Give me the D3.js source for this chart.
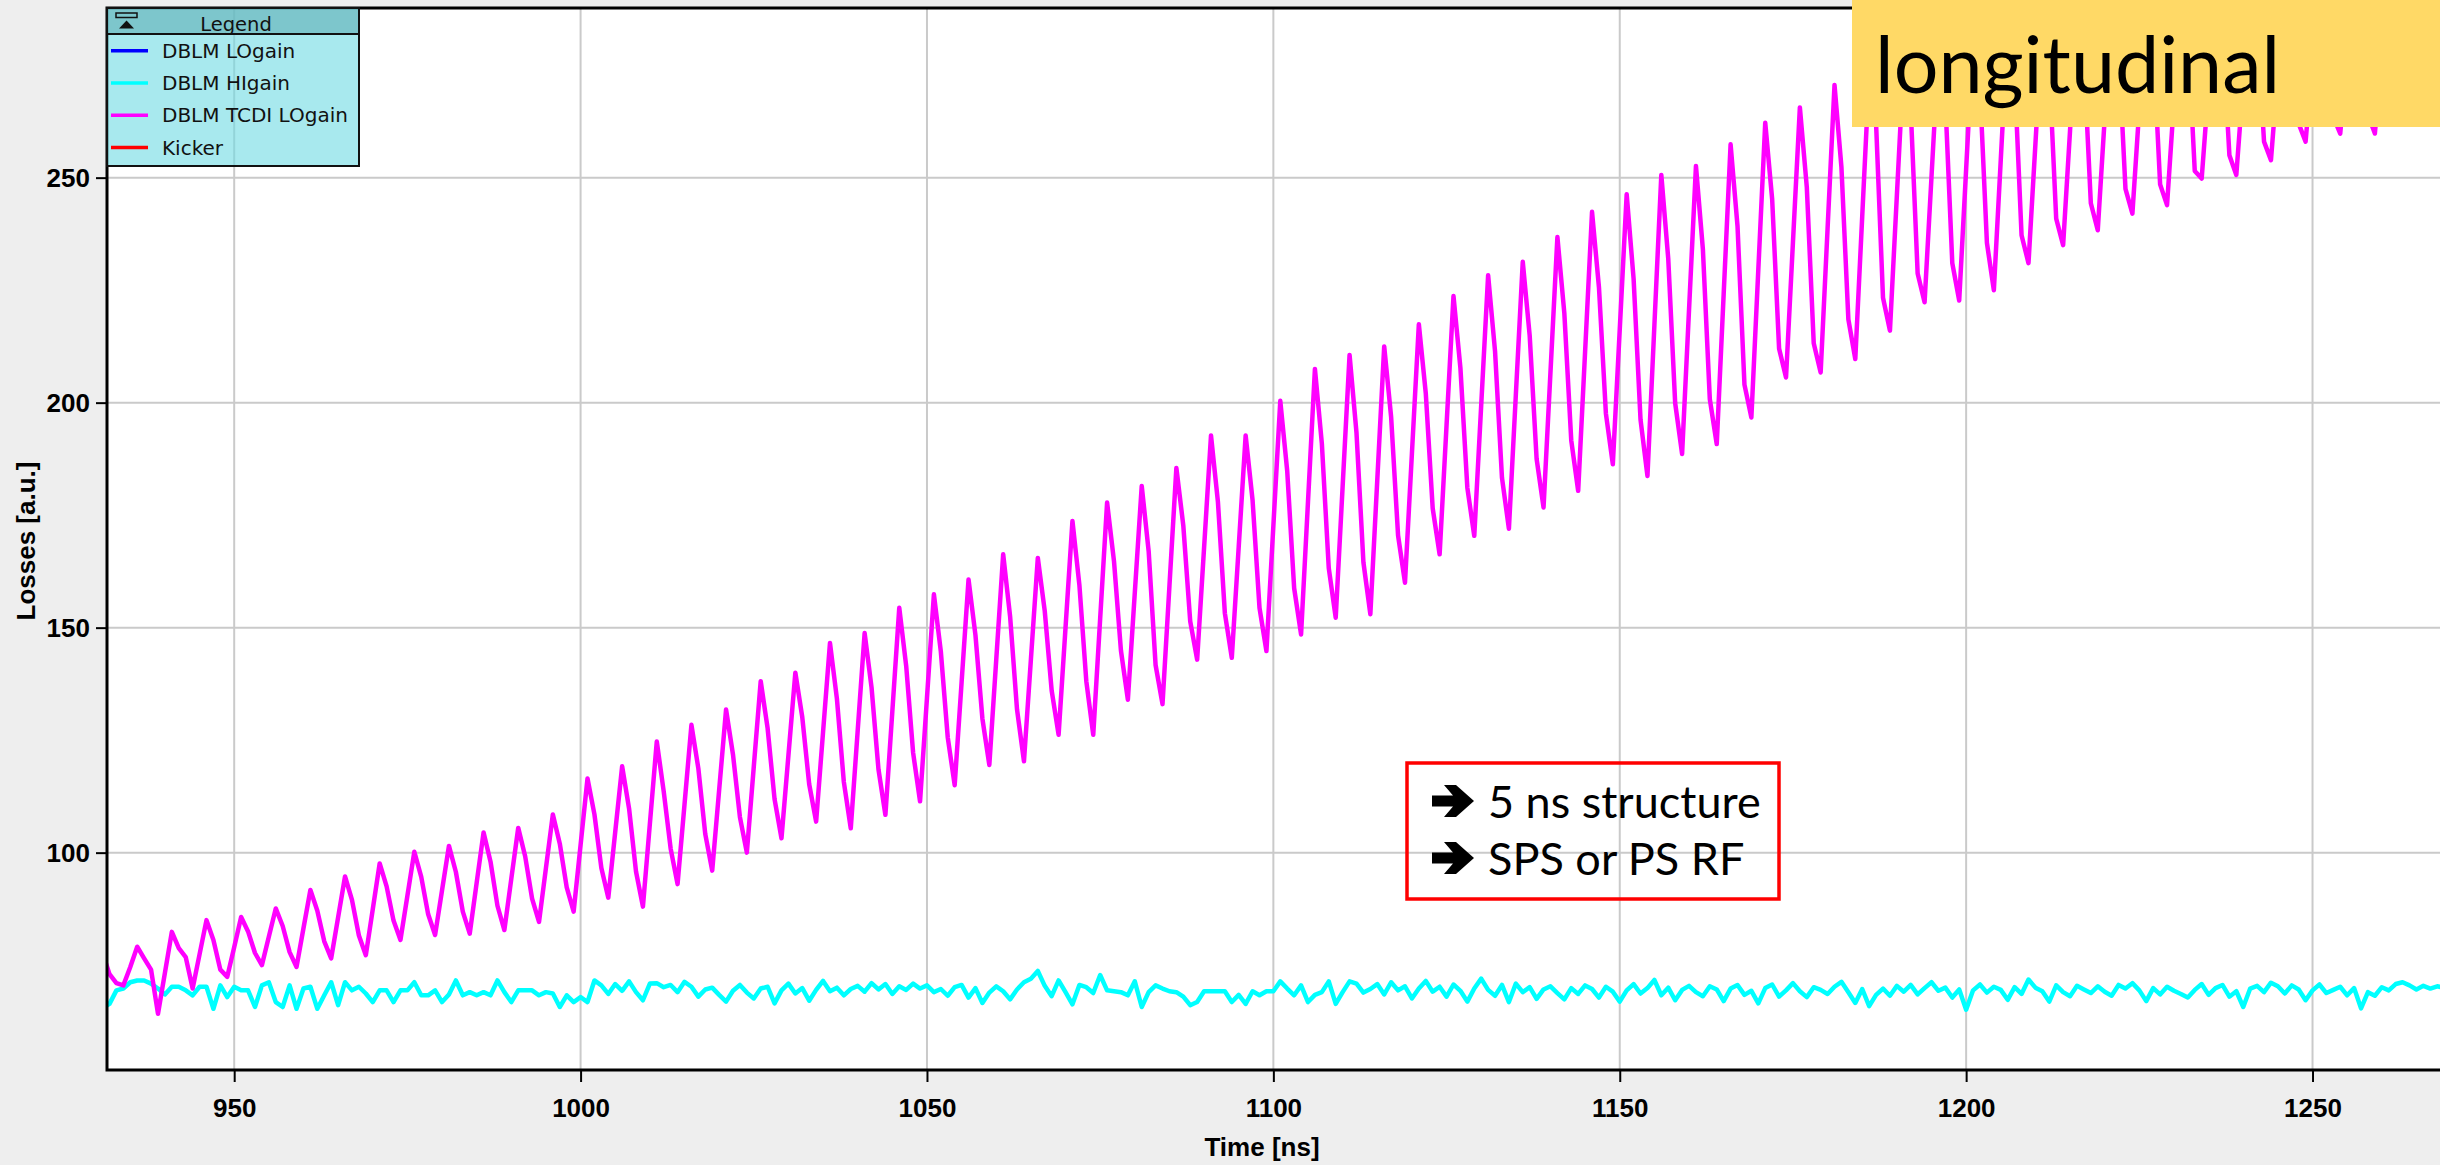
<!DOCTYPE html>
<html lang="en">
<head>
<meta charset="UTF-8">
<title>DBLM losses - longitudinal</title>
<script src="https://d3js.org/d3.v7.min.js"></script>
<style>
  * { margin: 0; padding: 0; box-sizing: border-box; }
  body { width: 2440px; height: 1165px; background: #eeeeee; overflow: hidden; }
  svg { display: block; }
</style>
</head>
<body>
<div id="chart"></div>
<script>
// scope samples every 1 ns, first sample at 931 ns
const tStart = 931;

// DBLM TCDI LOgain, 931..1269 ns
const tcdiLoGain = [
  77.7, 73.0, 71.0, 70.5, 74.6, 79.1, 76.5, 74.0, 64.2, 73.3,
  82.4, 78.8, 76.8, 69.8, 77.4, 85.0, 80.6, 74.0, 72.4, 79.0,
  85.7, 82.5, 77.7, 75.0, 81.3, 87.6, 83.7, 77.9, 74.6, 83.2,
  91.7, 87.1, 80.3, 76.5, 85.6, 94.7, 89.5, 81.6, 77.2, 87.4,
  97.6, 92.5, 84.9, 80.6, 90.4, 100.2, 94.6, 86.3, 81.7, 91.6,
  101.5, 95.7, 86.9, 82.0, 93.3, 104.5, 98.0, 88.2, 82.8, 94.2,
  105.5, 99.2, 89.8, 84.6, 96.6, 108.5, 102.0, 92.3, 86.9, 101.7,
  116.5, 108.5, 96.6, 90.0, 104.6, 119.2, 109.8, 95.8, 88.0, 106.4,
  124.7, 113.6, 100.9, 93.0, 110.7, 128.4, 118.7, 104.1, 96.0, 113.9,
  131.8, 121.8, 107.9, 100.0, 119.1, 138.1, 127.6, 111.9, 103.2, 121.6,
  140.0, 130.1, 115.2, 106.9, 126.8, 146.6, 134.2, 115.7, 105.4, 127.1,
  148.8, 136.7, 118.5, 108.4, 131.4, 154.4, 141.5, 122.2, 111.4, 134.4,
  157.4, 144.7, 125.6, 115.0, 137.9, 160.7, 148.3, 129.8, 119.5, 142.9,
  166.3, 152.5, 131.8, 120.3, 142.9, 165.5, 153.7, 136.0, 126.2, 150.0,
  173.7, 159.5, 138.1, 126.2, 152.0, 177.8, 164.7, 144.9, 134.0, 157.8,
  181.5, 167.0, 141.7, 133.0, 159.3, 185.5, 172.7, 151.4, 142.9, 167.8,
  192.7, 177.9, 153.2, 143.3, 168.0, 192.7, 178.3, 154.4, 144.8, 172.6,
  200.4, 184.8, 158.8, 148.5, 178.0, 207.5, 190.9, 163.2, 152.2, 181.4,
  210.6, 193.3, 164.5, 153.0, 182.8, 212.5, 196.8, 170.5, 160.0, 188.7,
  217.4, 202.1, 176.5, 166.3, 195.0, 223.7, 207.7, 181.1, 170.4, 199.4,
  228.3, 211.4, 183.3, 172.0, 201.7, 231.3, 214.9, 187.5, 176.7, 206.8,
  236.8, 219.9, 191.6, 180.4, 211.4, 242.4, 225.6, 197.6, 186.3, 216.3,
  246.3, 227.5, 196.2, 183.7, 217.2, 250.6, 232.0, 199.9, 188.6, 220.6,
  252.6, 234.1, 200.8, 190.8, 224.1, 257.4, 239.2, 204.0, 196.7, 229.5,
  262.2, 245.2, 212.0, 205.6, 235.6, 265.6, 247.9, 213.2, 206.7, 238.7,
  270.6, 252.3, 218.5, 209.7, 241.4, 273.0, 262.0, 223.3, 216.0, 246.0,
  276.0, 265.3, 228.7, 222.3, 250.2, 278.0, 267.0, 231.0, 222.7, 251.9,
  281.0, 269.8, 235.5, 225.0, 254.0, 283.0, 272.6, 237.2, 231.0, 257.5,
  284.0, 274.2, 240.9, 235.0, 260.5, 286.0, 276.5, 244.3, 238.3, 263.2,
  288.0, 278.8, 247.5, 242.0, 265.5, 289.0, 280.0, 248.5, 243.9, 267.0,
  290.0, 282.0, 251.5, 249.8, 270.4, 291.0, 283.0, 255.0, 250.6, 271.3,
  292.0, 284.4, 258.0, 253.9, 273.5, 293.0, 286.0, 262.0, 258.0, 276.0,
  294.0, 287.2, 263.5, 259.8, 277.4, 295.0, 288.0, 264.0, 259.8, 277.9,
  296.0, 289.2, 266.0, 262.0, 279.5, 297.0, 289.0, 268.0, 264.0
];

// DBLM HIgain, 931..1269 ns
const hiGain = [
  65.5, 66.4, 69.4, 69.8, 71.2, 71.6, 71.6, 70.9, 69.8, 68.5,
  70.2, 70.2, 69.4, 68.3, 70.2, 70.2, 65.3, 70.5, 67.9, 70.2,
  69.4, 69.4, 65.7, 70.5, 71.2, 66.8, 65.7, 70.5, 65.3, 69.8,
  70.2, 65.3, 68.3, 71.2, 66.1, 71.2, 69.4, 70.2, 68.7, 66.8,
  69.4, 69.4, 66.8, 69.4, 69.4, 71.2, 68.3, 68.3, 69.4, 66.8,
  68.5, 71.6, 68.3, 69.0, 68.3, 69.0, 68.3, 71.6, 69.0, 66.8,
  69.4, 69.4, 69.4, 68.3, 69.0, 68.7, 65.7, 68.3, 66.8, 67.9,
  66.8, 71.6, 70.5, 68.6, 70.8, 69.3, 71.4, 69.0, 67.2, 70.9,
  71.0, 70.1, 70.6, 69.0, 71.3, 70.2, 68.0, 69.6, 70.0, 68.4,
  66.9, 69.3, 70.6, 68.9, 67.6, 69.8, 70.2, 66.5, 69.4, 70.9,
  68.7, 69.9, 67.1, 69.5, 71.5, 69.2, 70.0, 68.3, 69.7, 70.4,
  69.1, 71.0, 69.6, 70.8, 68.6, 70.3, 69.5, 70.9, 69.8, 70.5,
  69.0, 69.7, 68.2, 70.1, 70.6, 67.8, 69.9, 66.6, 68.9, 70.3,
  69.2, 67.4, 69.6, 71.2, 72.0, 73.7, 70.4, 68.1, 71.6, 69.0,
  66.3, 70.6, 70.1, 68.8, 72.8, 69.4, 69.2, 69.0, 68.3, 71.4,
  65.7, 69.0, 70.5, 69.8, 69.2, 69.0, 68.0, 66.1, 66.8, 69.2,
  69.2, 69.2, 69.2, 66.8, 68.4, 66.4, 69.2, 68.3, 69.2, 69.2,
  71.4, 69.8, 68.3, 70.5, 66.8, 68.4, 69.0, 71.4, 66.4, 69.0,
  71.4, 70.9, 68.9, 69.7, 70.8, 68.5, 71.2, 69.4, 70.3, 67.6,
  69.8, 71.5, 69.1, 70.2, 68.0, 70.7, 69.3, 66.9, 69.8, 72.0,
  69.5, 68.2, 70.6, 66.8, 70.9, 69.0, 70.1, 67.5, 69.6, 70.3,
  68.8, 67.4, 69.9, 68.6, 70.5, 69.7, 67.8, 70.2, 69.1, 66.9,
  69.4, 70.8, 68.7, 69.9, 71.7, 68.3, 70.0, 67.2, 69.5, 70.4,
  69.0, 68.1, 70.3, 69.6, 67.0, 69.8, 70.6, 68.4, 69.3, 66.5,
  69.9, 70.7, 68.0, 69.4, 71.0, 69.2, 67.9, 70.1, 69.5, 68.6,
  70.2, 71.3, 69.0, 66.6, 69.7, 65.9, 68.4, 69.8, 68.2, 70.4,
  69.1, 70.6, 68.5, 69.9, 71.2, 69.3, 70.0, 67.8, 69.6, 65.1,
  69.4, 70.7, 68.9, 70.2, 69.5, 67.3, 70.1, 68.6, 71.8, 70.0,
  69.2, 66.9, 70.5, 69.0, 68.1, 70.4, 69.6, 68.8, 70.3, 69.1,
  68.2, 70.6, 69.8, 71.0, 69.4, 67.0, 69.9, 68.5, 70.2, 69.3,
  68.6, 67.8, 69.5, 70.8, 68.4, 69.9, 70.6, 68.0, 69.2, 65.7,
  69.8, 70.4, 69.0, 71.1, 70.3, 68.7, 70.5, 69.6, 67.2, 69.4,
  70.7, 68.8, 69.5, 70.2, 68.3, 69.9, 65.4, 69.0, 68.2, 70.1,
  69.4, 70.8, 71.2, 70.5, 69.6, 70.4, 69.8, 70.3, 70.0
];

const xTicks = [950, 1000, 1050, 1100, 1150, 1200, 1250];
const yTicks = [100, 150, 200, 250];

const legendNames = ['DBLM LOgain', 'DBLM HIgain', 'DBLM TCDI LOgain', 'Kicker'];
const legendColors = ['#0000ff', '#00ffff', '#ff00ff', '#ff0000'];

const tagText = 'longitudinal';
const noteLines = ['5 ns structure', 'SPS or PS RF'];

// layout
const W = 2440, H = 1165;
const plot = { left: 107, top: 8, right: 2440, bottom: 1070 };
const axisFont = '"Liberation Sans", Arial, sans-serif';

const svg = d3.select('#chart')
  .append('svg')
  .attr('width', W)
  .attr('height', H);

const x = d3.scaleLinear().domain([931.64, 1268.4]).range([plot.left, plot.right]);
const y = d3.scaleLinear().domain([51.7, 287.7]).range([plot.bottom, plot.top]);

// plot background
svg.append('rect')
  .attr('x', plot.left).attr('y', plot.top)
  .attr('width', plot.right - plot.left).attr('height', plot.bottom - plot.top)
  .attr('fill', '#ffffff');

// grid
const grid = svg.append('g').attr('stroke', '#cacaca').attr('stroke-width', 2);
grid.selectAll('line.gx').data(xTicks).join('line')
  .attr('class', 'gx')
  .attr('x1', d => x(d)).attr('x2', d => x(d))
  .attr('y1', plot.top).attr('y2', plot.bottom);
grid.selectAll('line.gy').data(yTicks).join('line')
  .attr('class', 'gy')
  .attr('x1', plot.left).attr('x2', plot.right)
  .attr('y1', d => y(d)).attr('y2', d => y(d));

// data lines
svg.append('clipPath').attr('id', 'clip')
  .append('rect')
  .attr('x', plot.left).attr('y', plot.top)
  .attr('width', plot.right - plot.left).attr('height', plot.bottom - plot.top);

const line = d3.line()
  .x((d, i) => x(tStart + i))
  .y(d => y(d));

const lines = svg.append('g').attr('clip-path', 'url(#clip)');
lines.append('path')
  .datum(hiGain)
  .attr('d', line)
  .attr('fill', 'none')
  .attr('stroke', legendColors[1])
  .attr('stroke-width', 4.5)
  .attr('stroke-linejoin', 'round');
lines.append('path')
  .datum(tcdiLoGain)
  .attr('d', line)
  .attr('fill', 'none')
  .attr('stroke', legendColors[2])
  .attr('stroke-width', 4.5)
  .attr('stroke-linejoin', 'round');

// axes
const xAxis = svg.append('g')
  .attr('transform', `translate(0,${plot.bottom})`)
  .call(d3.axisBottom(x).tickValues(xTicks).tickSize(12).tickFormat(d3.format('d')));
const yAxis = svg.append('g')
  .attr('transform', `translate(${plot.left},0)`)
  .call(d3.axisLeft(y).tickValues(yTicks).tickSize(11).tickFormat(d3.format('d')));

[xAxis, yAxis].forEach(g => {
  g.select('.domain').remove();
  g.attr('font-family', axisFont).attr('font-size', 26).attr('font-weight', 'bold');
  g.selectAll('.tick line').attr('stroke', '#000').attr('stroke-width', 2);
  g.selectAll('.tick text').attr('fill', '#000');
});
xAxis.selectAll('.tick text').attr('y', 47).attr('dy', null);
yAxis.selectAll('.tick text').attr('x', -17).attr('dy', 9);

// frame: left, top and bottom edges (right side runs off the picture)
svg.append('path')
  .attr('d', `M${plot.right},${plot.top}H${plot.left}V${plot.bottom}H${plot.right}`)
  .attr('fill', 'none')
  .attr('stroke', '#000')
  .attr('stroke-width', 3);

// axis titles
svg.append('text')
  .attr('transform', `translate(35,${(plot.top + plot.bottom) / 2 + 2}) rotate(-90)`)
  .attr('text-anchor', 'middle')
  .attr('font-family', axisFont).attr('font-weight', 'bold').attr('font-size', 26)
  .text('Losses [a.u.]');
svg.append('text')
  .attr('x', 1262).attr('y', 1156)
  .attr('text-anchor', 'middle')
  .attr('font-family', axisFont).attr('font-weight', 'bold').attr('font-size', 26)
  .text('Time [ns]');

// legend (slightly see-through, grid shows under it)
const lg = svg.append('g').attr('transform', `translate(${plot.left},${plot.top})`);
lg.append('rect')
  .attr('width', 252).attr('height', 158)
  .attr('fill', 'rgb(110,218,227)').attr('fill-opacity', 0.6);
lg.append('rect')
  .attr('width', 252).attr('height', 26)
  .attr('fill', 'rgb(97,175,182)').attr('fill-opacity', 0.6);
lg.append('rect')
  .attr('width', 252).attr('height', 158)
  .attr('fill', 'none').attr('stroke', '#111').attr('stroke-width', 2);
lg.append('line')
  .attr('x1', 0).attr('x2', 252).attr('y1', 26).attr('y2', 26)
  .attr('stroke', '#111').attr('stroke-width', 2);
// collapse icon
lg.append('rect')
  .attr('x', 9).attr('y', 5).attr('width', 21).attr('height', 4.5)
  .attr('fill', 'none').attr('stroke', '#111').attr('stroke-width', 1.5);
lg.append('path')
  .attr('d', 'M12,20.5 L27,20.5 L19.5,12.5 Z')
  .attr('fill', '#111');
lg.append('text')
  .attr('x', 129).attr('y', 22.5)
  .attr('text-anchor', 'middle')
  .attr('font-family', '"DejaVu Sans", sans-serif').attr('font-size', 19.5)
  .attr('fill', '#111')
  .text('Legend');

const rows = lg.selectAll('g.row').data(legendNames).join('g')
  .attr('class', 'row')
  .attr('transform', (d, i) => `translate(0,${42.7 + i * 32.3})`);
rows.append('line')
  .attr('x1', 4).attr('x2', 41)
  .attr('stroke', (d, i) => legendColors[i])
  .attr('stroke-width', 3.5);
rows.append('text')
  .attr('x', 55).attr('y', 7)
  .attr('font-family', '"DejaVu Sans", sans-serif').attr('font-size', 20)
  .attr('fill', '#111')
  .text(d => d);

// "longitudinal" tag
svg.append('rect')
  .attr('x', 1852).attr('y', 0).attr('width', W - 1852).attr('height', 127)
  .attr('fill', '#ffd966');
svg.append('text')
  .attr('x', 1875).attr('y', 93)
  .attr('font-family', 'Lato, "Open Sans", sans-serif').attr('font-size', 79)
  .attr('fill', '#000')
  .text(tagText);

// note box with bullet arrows
const note = svg.append('g');
note.append('rect')
  .attr('x', 1407).attr('y', 763).attr('width', 372).attr('height', 136)
  .attr('fill', 'none').attr('stroke', '#ff0000').attr('stroke-width', 3.5);
const noteRows = note.selectAll('g').data(noteLines).join('g')
  .attr('transform', (d, i) => `translate(0,${818 + i * 57})`);
noteRows.append('path')
  .attr('transform', 'translate(1432,-17)')
  .attr('d', 'M0,-5.5 H21 L12,-16 H24 L42,0 L24,16 H12 L21,5.5 H0 Z')
  .attr('fill', '#000');
noteRows.append('text')
  .attr('x', 1488)
  .attr('font-family', 'Lato, "Open Sans", sans-serif').attr('font-size', 45)
  .attr('fill', '#000')
  .text(d => d);
</script>
</body>
</html>
